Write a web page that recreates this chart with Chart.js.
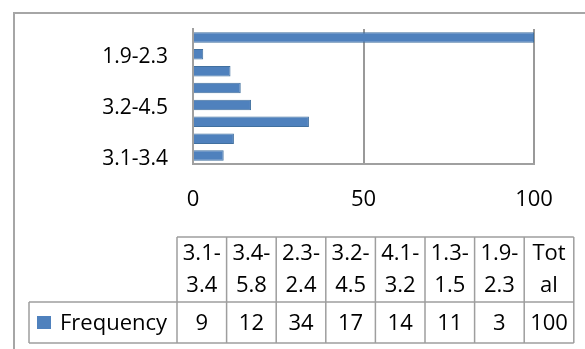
<!DOCTYPE html>
<html>
<head>
<meta charset="utf-8">
<script src="https://cdn.jsdelivr.net/npm/chart.js@4/dist/chart.umd.min.js"></script>
<style>
  html, body { margin: 0; padding: 0; background: #ffffff; }
  canvas { display: block; }
</style>
</head>
<body>
<canvas id="c" width="585" height="349"></canvas>
<script>
// Class intervals and their frequencies (bottom to top on the bar axis)
const categories = ['3.1-3.4', '3.4-5.8', '2.3-2.4', '3.2-4.5', '4.1-3.2', '1.3-1.5', '1.9-2.3', 'Total'];
const frequency = [9, 12, 34, 17, 14, 11, 3, 100];
const seriesName = 'Frequency';
const valueTicks = [0, 50, 100];

const FONT = '"Open Sans", "Liberation Sans", sans-serif';
const TEXT = '#000000';
const LINE = '#a0a0a0';
const BAR = '#4f81bd';

// Frame around the whole chart object and the data table underneath
const frameAndTable = {
  id: 'frameAndTable',
  beforeDraw(chart) {
    const ctx = chart.ctx;
    ctx.save();
    ctx.fillStyle = '#ffffff';
    ctx.fillRect(0, 0, chart.width, chart.height);
    ctx.strokeStyle = '#a6a6a6';
    ctx.lineWidth = 2;
    ctx.strokeRect(14, 13, 800, 600);
    ctx.restore();
  },
  afterDraw(chart) {
    const ctx = chart.ctx;
    const colLeft = 177, colW = 49.6;
    const keyLeft = 29;
    const headTop = 237, rowTop = 302, rowBottom = 343;
    const right = colLeft + colW * categories.length;

    ctx.save();
    ctx.strokeStyle = '#9e9e9e';
    ctx.lineWidth = 1.5;
    ctx.beginPath();
    ctx.moveTo(colLeft, headTop); ctx.lineTo(right, headTop);
    ctx.moveTo(keyLeft, rowTop); ctx.lineTo(right, rowTop);
    ctx.moveTo(keyLeft, rowBottom); ctx.lineTo(right, rowBottom);
    ctx.moveTo(keyLeft, rowTop); ctx.lineTo(keyLeft, rowBottom);
    for (let i = 0; i <= categories.length; i++) {
      const x = colLeft + colW * i;
      ctx.moveTo(x, headTop); ctx.lineTo(x, rowBottom);
    }
    ctx.stroke();

    ctx.font = '22px ' + FONT;
    ctx.fillStyle = TEXT;
    ctx.textAlign = 'center';
    ctx.textBaseline = 'middle';

    const wrap = (text, maxW) => {
      const lines = [];
      let cur = '';
      for (const ch of text) {
        const next = cur + ch;
        if (cur && ctx.measureText(next).width > maxW) { lines.push(cur); cur = ch; }
        else cur = next;
        if (ch === '-') { lines.push(cur); cur = ''; }
      }
      if (cur) lines.push(cur);
      return lines;
    };

    categories.forEach((cat, i) => {
      const cx = colLeft + colW * i + colW / 2;
      const lines = wrap(cat, colW - 5);
      const lh = 32;
      const cy = (headTop + rowTop) / 2;
      lines.forEach((ln, k) => {
        ctx.fillText(ln, cx, cy + (k - (lines.length - 1) / 2) * lh);
      });
      ctx.fillText(String(frequency[i]), cx, (rowTop + rowBottom) / 2 + 1);
    });

    // legend key
    ctx.fillStyle = BAR;
    ctx.fillRect(37, 316, 14, 13);
    ctx.fillStyle = TEXT;
    ctx.textAlign = 'left';
    ctx.fillText(seriesName, 60, (rowTop + rowBottom) / 2 + 1);
    ctx.restore();
  }
};

new Chart(document.getElementById('c'), {
  type: 'bar',
  data: {
    labels: categories,
    datasets: [{
      label: seriesName,
      data: frequency,
      backgroundColor: BAR,
      borderColor: '#41709f',
      borderWidth: 1,
      categoryPercentage: 1,
      barPercentage: 0.62
    }]
  },
  options: {
    indexAxis: 'y',
    responsive: false,
    animation: false,
    devicePixelRatio: 1,
    layout: { padding: { left: 0, top: 29, right: 51, bottom: 125 } },
    plugins: { legend: { display: false }, tooltip: { enabled: false } },
    scales: {
      x: {
        min: valueTicks[0],
        max: valueTicks[valueTicks.length - 1],
        afterBuildTicks(scale) { scale.ticks = valueTicks.map(v => ({ value: v })); },
        afterFit(scale) { scale.height = 60; scale.paddingLeft = 0; scale.paddingRight = 0; },
        grid: { color: '#999999', lineWidth: 2, drawTicks: false },
        border: { display: true, color: LINE, width: 2 },
        ticks: { color: TEXT, padding: 23, font: { family: FONT, size: 22 } }
      },
      y: {
        reverse: true,
        afterFit(scale) { scale.width = 193; scale.paddingTop = 0; scale.paddingBottom = 0; },
        grid: { display: false, drawTicks: false },
        border: { display: true, color: LINE, width: 2 },
        ticks: {
          autoSkip: false,
          color: TEXT,
          padding: 25,
          labelOffset: 3,
          font: { family: FONT, size: 21 },
          callback(value, index) { return index % 3 === 0 ? categories[index] : ''; }
        }
      }
    }
  },
  plugins: [frameAndTable]
});
</script>
</body>
</html>
